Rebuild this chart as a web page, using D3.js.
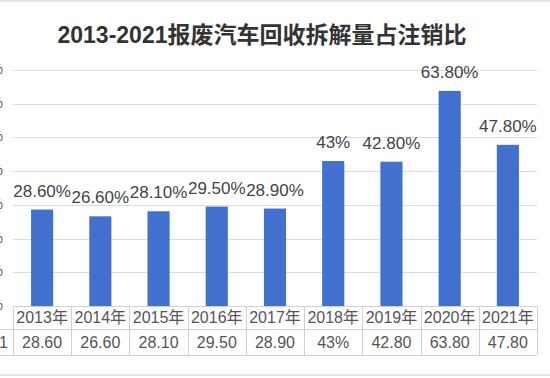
<!DOCTYPE html>
<html><head><meta charset="utf-8">
<script src="https://cdn.jsdelivr.net/npm/d3@7"></script>
<style>
html,body{margin:0;padding:0;background:#fff;}
svg{display:block;}
text{font-family:"Liberation Sans",Arial,"Noto Sans CJK SC",sans-serif;}
</style></head>
<body>
<svg id="chart" width="550" height="378"></svg>
<script>
const title = "2013-2021报废汽车回收拆解量占注销比";
const years = ["2013年","2014年","2015年","2016年","2017年","2018年","2019年","2020年","2021年"];
const values = [28.6, 26.6, 28.1, 29.5, 28.9, 43, 42.8, 63.8, 47.8];
const barLabels = ["28.60%","26.60%","28.10%","29.50%","28.90%","43%","42.80%","63.80%","47.80%"];
const tableLabels = ["28.60","26.60","28.10","29.50","28.90","43%","42.80","63.80","47.80"];
const yTicks = [0,10,20,30,40,50,60,70];
const seriesName = "系列1";

const svg = d3.select("#chart");
const plotLeft = 13, plotRight = 537, plotTop = 70, plotBottom = 306;
const x = d3.scaleBand().domain(years).range([plotLeft, plotRight]).paddingInner(0.62).paddingOuter(0.31);
const xc = d3.scaleBand().domain(years).range([plotLeft, plotRight]);
const y = d3.scaleLinear().domain([0, 70]).range([plotBottom, plotTop]);

// screen border lines
svg.append("rect").attr("x",0).attr("y",0).attr("width",550).attr("height",2).attr("fill","#e4e4e4");
svg.append("rect").attr("x",0).attr("y",374).attr("width",550).attr("height",2).attr("fill","#e4e4e4");

// title
svg.append("text").attr("x", 262).attr("y", 43).attr("text-anchor","middle")
  .attr("font-size", 23).attr("font-weight","bold").attr("fill","#333")
  .text(title);

// gridlines
svg.append("g").selectAll("line").data(yTicks.slice(1)).join("line")
  .attr("x1", plotLeft).attr("x2", plotRight)
  .attr("y1", d => Math.round(y(d))+0.5).attr("y2", d => Math.round(y(d))+0.5)
  .attr("stroke", "#dcdcdc").attr("stroke-width", 1);

// y tick labels (cut off at left edge)
svg.append("g").selectAll("text").data(yTicks).join("text")
  .attr("x", 3).attr("y", d => y(d) + 4).attr("text-anchor","end")
  .attr("font-size", 14).attr("fill","#555").text(d => d + "%");

// bars
svg.append("g").selectAll("rect").data(values).join("rect")
  .attr("x", (d,i) => x(years[i])).attr("width", x.bandwidth())
  .attr("y", d => y(d)).attr("height", d => plotBottom - y(d))
  .attr("fill", "#4170cf");

// data labels
svg.append("g").selectAll("text").data(values).join("text")
  .attr("x", (d,i) => x(years[i]) + x.bandwidth()/2)
  .attr("y", d => y(d) - 13).attr("text-anchor","middle")
  .attr("font-size", 17).attr("fill","#444").text((d,i) => barLabels[i]);

// data table
const row1Top = plotBottom, row1Bot = 329, row2Bot = 355;
const tg = svg.append("g").attr("stroke","#d0d0d0").attr("stroke-width",1);
tg.append("line").attr("x1",plotLeft).attr("x2",plotRight).attr("y1",row1Top+0.5).attr("y2",row1Top+0.5);
tg.append("line").attr("x1",0).attr("x2",plotRight).attr("y1",row1Bot+0.5).attr("y2",row1Bot+0.5);
tg.append("line").attr("x1",0).attr("x2",plotRight).attr("y1",row2Bot+0.5).attr("y2",row2Bot+0.5);
const vx = years.map(c => xc(c)).concat([plotRight]);
tg.selectAll("line.v").data(vx).join("line").attr("class","v")
  .attr("x1", d => Math.round(d)+0.5).attr("x2", d => Math.round(d)+0.5)
  .attr("y1", row1Top).attr("y2", row2Bot);

svg.append("g").selectAll("text").data(years).join("text")
  .attr("x", d => xc(d) + xc.bandwidth()/2).attr("y", 323)
  .attr("text-anchor","middle").attr("font-size",16).attr("fill","#555")
  .text(d => d);
svg.append("g").selectAll("text").data(tableLabels).join("text")
  .attr("x", (d,i) => xc(years[i]) + xc.bandwidth()/2).attr("y", 348)
  .attr("text-anchor","middle").attr("font-size",16).attr("fill","#555")
  .text(d => d);
svg.append("text").attr("x", 8).attr("y", 348).attr("text-anchor","end")
  .attr("font-size",16).attr("fill","#555")
  .text(seriesName);
</script>
</body></html>
